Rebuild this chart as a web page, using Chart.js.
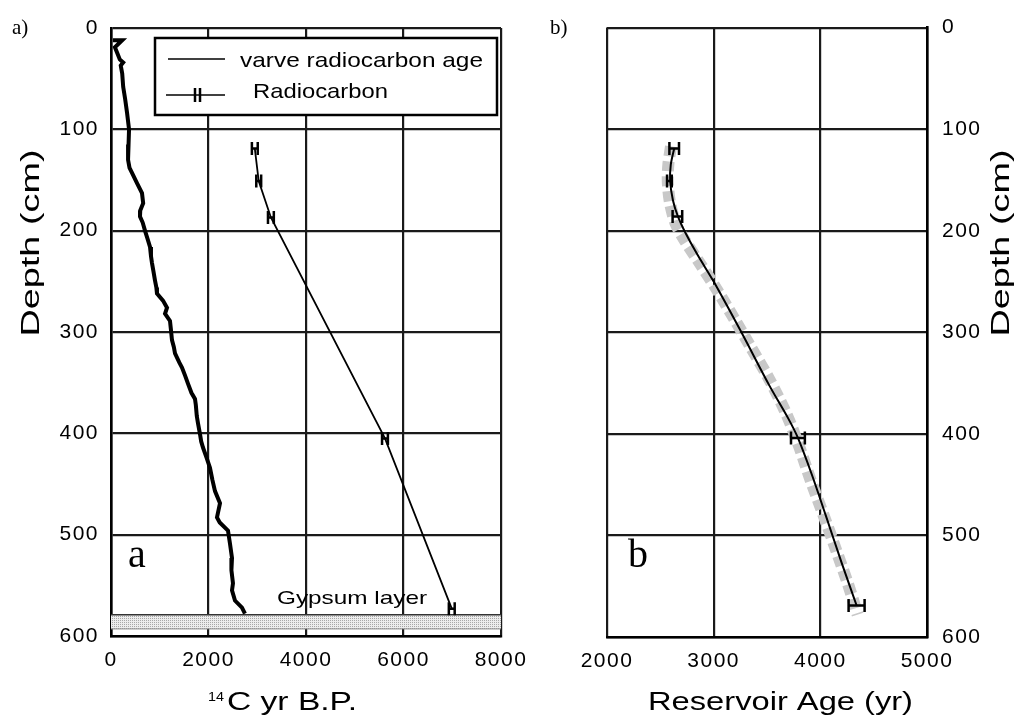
<!DOCTYPE html>
<html><head><meta charset="utf-8">
<script src="https://cdn.jsdelivr.net/npm/chart.js@4.4.1/dist/chart.umd.min.js"></script>
<style>
html,body{margin:0;padding:0;background:#fff;}
#wrap{position:relative;width:1022px;height:717px;overflow:hidden;background:#fff;}
#ca{position:absolute;left:0;top:0;}
#cb{position:absolute;left:540px;top:0;}
</style></head><body>
<div id="wrap"><canvas id="ca" width="540" height="717"></canvas><canvas id="cb" width="482" height="717"></canvas></div>
<script>
// ---------- data ----------
const depthTicks = [0, 100, 200, 300, 400, 500, 600];
const ageTicksA = [0, 2000, 4000, 6000, 8000];
const ageTicksB = [2000, 3000, 4000, 5000];

const varveAge = [40, 230, 80, 130, 180, 250, 200, 230, 250, 290, 330, 370, 360, 350, 380, 431, 533, 636, 660, 600, 595, 650, 697, 750, 800, 820, 841, 870, 902, 930, 943, 1067, 1149, 1108, 1210, 1230, 1251, 1290, 1313, 1400, 1456, 1520, 1579, 1650, 1723, 1740, 1760, 1784, 1830, 1850, 1887, 1960, 2030, 2080, 2133, 2236, 2174, 2230, 2400, 2441, 2482, 2470, 2502, 2482, 2543, 2687, 2748];
const varveDepth = [12, 12, 19, 25, 31, 34, 37, 45, 58, 70, 84, 100, 115, 130, 138, 143, 153, 163, 173, 180, 186, 192, 200, 208, 216, 225, 232, 240, 249, 256, 262, 269, 276, 282, 289, 298, 308, 315, 321, 330, 335, 343, 351, 360, 366, 372, 383, 390, 402, 408, 414, 424, 434, 446, 457, 469, 483, 488, 496, 509, 523, 535, 548, 555, 565, 572, 578];

const radioAge = [2950, 3030, 3280, 5620, 6990];
const radioDepth = [119, 151, 187, 405, 573];
const radioErr = [60, 50, 60, 60, 60];

const reservoirAge = [2630, 2585, 2660, 3790, 4340];
const reservoirDepth = [119, 151, 186, 404, 569];
const reservoirErr = [45, 22, 45, 65, 75];

const curveAge = [2630, 2598, 2592, 2618, 2665, 2730, 2850, 3000, 3260, 3520, 3700, 3790, 3920, 4050, 4200, 4340];
const curveDepth = [119, 135, 151, 170, 186, 201, 224, 250, 300, 352, 385, 404, 440, 480, 527, 569];

const bandAge = [2600, 2575, 2570, 2590, 2640, 2720, 2870, 3030, 3200, 3350, 3520, 3680, 3800, 3910, 4030, 4150, 4260, 4350];
const bandDepth = [117, 135, 152, 172, 192, 208, 232, 258, 288, 315, 346, 380, 412, 446, 480, 515, 548, 578];

const gypsumDepth = [579, 593];
const gypsumAge = [0, 8000];

// ---------- helpers ----------
const pts = (xs, ys) => xs.map((x, i) => ({x: x, y: ys[i]}));
const SANS = '"Liberation Sans", Arial, Helvetica, sans-serif';
const SERIF = '"Liberation Serif", "Times New Roman", serif';

function sText(ctx, txt, x, y, font, o) {
  o = o || {};
  ctx.save();
  ctx.letterSpacing = '0px';
  ctx.font = font;
  ctx.fillStyle = '#000';
  ctx.textBaseline = o.baseline || 'alphabetic';
  ctx.textAlign = o.align || 'left';
  const nat = ctx.measureText(txt).width;
  const sx = o.width ? o.width / nat : 1;
  ctx.translate(x, y);
  if (o.rot) ctx.rotate(-Math.PI / 2);
  ctx.scale(sx, 1);
  ctx.fillText(txt, 0, 0);
  ctx.restore();
}

function errBars(chart, xs, ys, errs, capH) {
  const ctx = chart.ctx, sx = chart.scales.x, sy = chart.scales.y;
  ctx.save();
  ctx.strokeStyle = '#000';
  ctx.lineWidth = 2.5;
  xs.forEach((v, i) => {
    const y = sy.getPixelForValue(ys[i]);
    const x0 = sx.getPixelForValue(v - errs[i]);
    const x1 = sx.getPixelForValue(v + errs[i]);
    ctx.beginPath();
    ctx.moveTo(x0, y); ctx.lineTo(x1, y);
    ctx.moveTo(x0, y - capH / 2); ctx.lineTo(x0, y + capH / 2);
    ctx.moveTo(x1, y - capH / 2); ctx.lineTo(x1, y + capH / 2);
    ctx.stroke();
  });
  ctx.restore();
}

const plain = v => String(v);

function yScale(position, width, pad) {
  return {
    type: 'linear', position: position, reverse: true, min: 0, max: 600,
    afterBuildTicks: s => { s.ticks = depthTicks.map(v => ({value: v})); },
    ticks: {color: '#000', font: {family: SANS, size: 21}, padding: pad, callback: plain},
    grid: {color: '#1a1a1a', lineWidth: 2.2, drawTicks: false},
    border: {display: true, color: '#000', width: 2.6},
    afterFit: s => { s.width = width; }
  };
}
function xScale(min, max, tickVals, height) {
  return {
    type: 'linear', position: 'bottom', min: min, max: max,
    afterBuildTicks: s => { s.ticks = tickVals.map(v => ({value: v})); },
    ticks: {color: '#000', font: {family: SANS, size: 21}, padding: 12, maxRotation: 0, callback: plain},
    grid: {color: '#1a1a1a', lineWidth: 2.2, drawTicks: false},
    border: {display: true, color: '#000', width: 2.6},
    afterFit: s => { s.height = height; }
  };
}

const spacingPlugin = {
  id: 'spacing',
  beforeDraw(chart) { chart.ctx.letterSpacing = '1.5px'; }
};

// ---------- panel a ----------
const panelA = {
  id: 'panelA',
  beforeDatasetsDraw(chart) {
    const ctx = chart.ctx, sx = chart.scales.x, sy = chart.scales.y;
    // gypsum layer band
    const yt = sy.getPixelForValue(gypsumDepth[0]);
    const yb = sy.getPixelForValue(gypsumDepth[1]);
    const xl = sx.getPixelForValue(gypsumAge[0]);
    const xr = sx.getPixelForValue(gypsumAge[1]);
    const pc = document.createElement('canvas');
    pc.width = 2; pc.height = 2;
    const g = pc.getContext('2d');
    g.fillStyle = '#ededed'; g.fillRect(0, 0, 2, 2);
    g.fillStyle = '#a8a8a8'; g.fillRect(0, 0, 1, 1);
    ctx.save();
    ctx.letterSpacing = '0px';
    ctx.fillStyle = ctx.createPattern(pc, 'repeat');
    ctx.fillRect(xl, yt, xr - xl, yb - yt);
    ctx.strokeStyle = '#333'; ctx.lineWidth = 1.5;
    ctx.beginPath(); ctx.moveTo(xl, yt); ctx.lineTo(xr, yt); ctx.stroke();
    ctx.strokeStyle = '#888'; ctx.lineWidth = 1;
    ctx.beginPath(); ctx.moveTo(xl, yb); ctx.lineTo(xr, yb); ctx.stroke();
    // legend box
    const L = 155, T = 38, R = 497, B = 115;
    ctx.fillStyle = '#fff';
    ctx.fillRect(L, T, R - L, B - T);
    ctx.strokeStyle = '#000'; ctx.lineWidth = 2.5;
    ctx.strokeRect(L, T, R - L, B - T);
    ctx.lineWidth = 1.6;
    ctx.beginPath(); ctx.moveTo(168, 59); ctx.lineTo(225, 59); ctx.stroke();
    ctx.beginPath(); ctx.moveTo(166, 95); ctx.lineTo(225, 95); ctx.stroke();
    ctx.lineWidth = 2.5;
    ctx.beginPath();
    ctx.moveTo(195, 88); ctx.lineTo(195, 102);
    ctx.moveTo(200, 88); ctx.lineTo(200, 102);
    ctx.stroke();
    ctx.restore();
    const ds = chart.data.datasets;
    sText(ctx, ds[0].label, 240, 67, '21px ' + SANS, {width: 243});
    sText(ctx, ds[1].label, 253, 98, '21px ' + SANS, {width: 135});
  },
  afterDatasetsDraw(chart) {
    errBars(chart, radioAge, radioDepth, radioErr, 13);
  },
  afterDraw(chart) {
    const ctx = chart.ctx;
    sText(ctx, 'a)', 12, 34, '21px ' + SERIF);
    sText(ctx, 'Depth (cm)', 39, 243, '26px ' + SANS, {rot: true, align: 'center', width: 187});
    sText(ctx, '14', 208, 701, '13px ' + SANS, {width: 16});
    sText(ctx, 'C yr B.P.', 227, 710, '25px ' + SANS, {width: 130});
    sText(ctx, 'Gypsum layer', 277, 604, '19px ' + SANS, {width: 150});
    sText(ctx, 'a', 128, 567, '40px ' + SERIF);
  }
};

new Chart(document.getElementById('ca'), {
  type: 'scatter',
  data: {
    datasets: [
      {label: 'varve radiocarbon age', data: pts(varveAge, varveDepth), showLine: true,
       borderColor: '#000', backgroundColor: '#000', borderWidth: 4, pointRadius: 0, tension: 0, order: 1},
      {label: 'Radiocarbon', data: pts(radioAge, radioDepth), showLine: true,
       borderColor: '#000', backgroundColor: '#000', borderWidth: 1.8, pointRadius: 0, tension: 0, order: 2}
    ]
  },
  options: {
    responsive: false, animation: false, devicePixelRatio: 1,
    layout: {padding: {top: 28, right: 39, bottom: 0, left: 0}},
    plugins: {legend: {display: false}, tooltip: {enabled: false}},
    scales: {x: xScale(0, 8000, ageTicksA, 81), y: yScale('left', 111, 12)}
  },
  plugins: [spacingPlugin, panelA]
});

// ---------- panel b ----------
const panelB = {
  id: 'panelB',
  afterDatasetsDraw(chart) {
    errBars(chart, reservoirAge, reservoirDepth, reservoirErr, 13);
  },
  afterDraw(chart) {
    const ctx = chart.ctx;
    sText(ctx, 'b)', 10, 34, '21px ' + SERIF);
    sText(ctx, 'Depth (cm)', 469, 243, '26px ' + SANS, {rot: true, align: 'center', width: 187});
    sText(ctx, 'Reservoir Age (yr)', 108, 710, '25px ' + SANS, {width: 265});
    sText(ctx, 'b', 88, 567, '40px ' + SERIF);
  }
};

new Chart(document.getElementById('cb'), {
  type: 'scatter',
  data: {
    datasets: [
      {label: 'Reservoir age', data: pts(curveAge, curveDepth), showLine: true,
       borderColor: '#000', borderWidth: 2, pointRadius: 0, tension: 0.3, order: 1},
      {label: 'Smoothed', data: pts(bandAge, bandDepth), showLine: true,
       borderColor: '#c8c8c8', borderWidth: 12, borderDash: [10, 5], borderCapStyle: 'butt',
       pointRadius: 0, tension: 0.3, order: 2}
    ]
  },
  options: {
    responsive: false, animation: false, devicePixelRatio: 1,
    layout: {padding: {top: 26, right: 0, bottom: 0, left: 67}},
    plugins: {legend: {display: false}, tooltip: {enabled: false}},
    scales: {x: xScale(2000, 5000, ageTicksB, 80), y: yScale('right', 95, 15)}
  },
  plugins: [spacingPlugin, panelB]
});
</script>
</body></html>
